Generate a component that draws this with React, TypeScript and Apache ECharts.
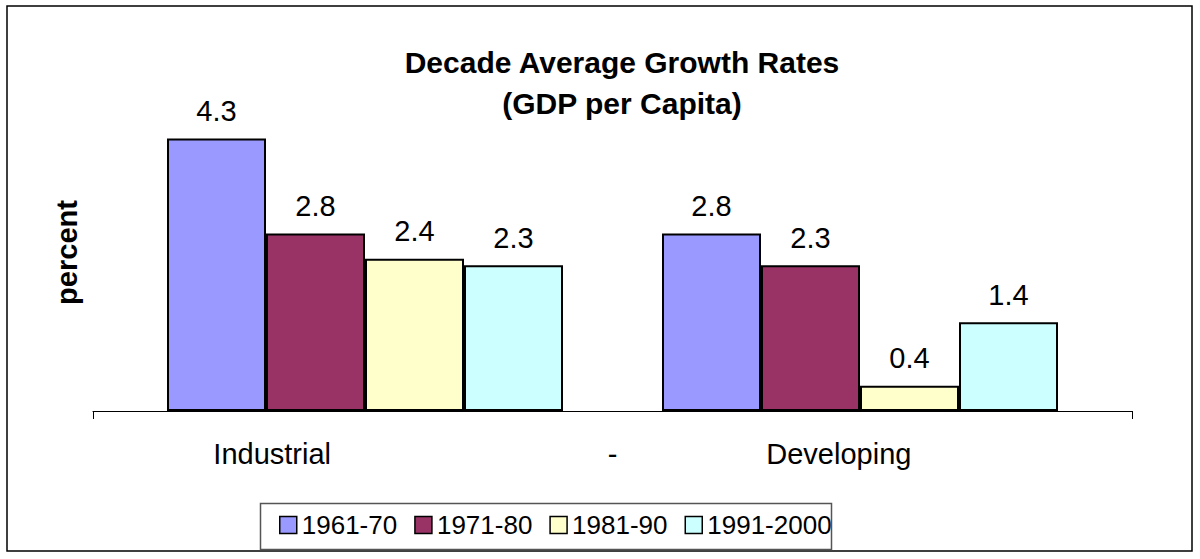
import React, { useEffect, useRef } from "react";
import * as echarts from "echarts";

const groups = ["Industrial", "Developing"];
const axisLabels = ["Industrial", "-", "Developing"];
const seriesNames = ["1961-70", "1971-80", "1981-90", "1991-2000"];
const v1961 = [4.3, 2.8];
const v1971 = [2.8, 2.3];
const v1981 = [2.4, 0.4];
const v1991 = [2.3, 1.4];
const seriesValues = [v1961, v1971, v1981, v1991];
const colors = ["#9999FF", "#993366", "#FFFFCC", "#CCFFFF"];
const titleText = "Decade Average Growth Rates\n(GDP per Capita)";
const yName = "percent";

const FONT = "'Liberation Sans', Arial, sans-serif";

export default function App() {
  const ref = useRef<HTMLDivElement>(null);
  useEffect(() => {
    if (!ref.current) return;
    const chart = echarts.init(ref.current, null, { renderer: "svg" });
    const option: any = {
      animation: false,
      backgroundColor: "#fff",
      textStyle: { fontFamily: FONT },
      title: {
        text: titleText,
        left: 617,
        top: 37,
        textAlign: "center",
        textStyle: { fontFamily: FONT, fontSize: 30, fontWeight: "bold", color: "#000", lineHeight: 41 },
      },
      legend: {
        data: seriesNames,
        left: 279,
        top: 512,
        icon: "rect",
        itemWidth: 17,
        itemHeight: 17,
        itemGap: 17,
        padding: 0,
        textStyle: { fontFamily: FONT, fontSize: 26, color: "#000" },
        itemStyle: { borderColor: "#000", borderWidth: 1.5 },
      },
      grid: [
        { left: 117.5, width: 990, top: 94, height: 317, containLabel: false },
        { left: 93, width: 1039, top: 94, height: 317, containLabel: false },
      ],
      xAxis: [
        {
          type: "category",
          gridIndex: 0,
          data: groups,
          axisLine: { show: false },
          axisTick: { show: false },
          axisLabel: { show: false },
          splitLine: { show: false },
        },
        {
          type: "category",
          gridIndex: 1,
          data: axisLabels,
          axisLine: { show: true, lineStyle: { color: "#000", width: 1 } },
          axisTick: { show: true, length: 8, lineStyle: { color: "#000" }, interval: (i: number) => i === 0 },
          axisLabel: {
            show: true,
            interval: 0,
            margin: 28,
            color: "#000",
            fontFamily: FONT,
            fontSize: 29,
            formatter: (v: string) => (v === "Industrial" ? `{a|${v}}` : v === "Developing" ? `{c|${v}}` : `{b|${v}}`),
            rich: {
              a: { fontFamily: FONT, fontSize: 29, color: "#000", padding: [0, 0, 0, 12] },
              b: { fontFamily: FONT, fontSize: 29, color: "#000" },
              c: { fontFamily: FONT, fontSize: 29, color: "#000", padding: [0, 240, 0, 0] },
            },
          },
          splitLine: { show: false },
        },
      ],
      yAxis: [
        {
          type: "value",
          gridIndex: 0,
          min: 0,
          max: 5,
          axisLine: { show: false },
          axisTick: { show: false },
          axisLabel: { show: false },
          splitLine: { show: false },
        },
        {
          type: "value",
          gridIndex: 1,
          min: 0,
          max: 5,
          name: yName,
          nameLocation: "middle",
          nameRotate: 90,
          nameGap: 12,
          nameTextStyle: { fontFamily: FONT, fontSize: 29, fontWeight: "bold", color: "#000" },
          axisLine: { show: false },
          axisTick: { show: false },
          axisLabel: { show: false },
          splitLine: { show: false },
        },
      ],
      series: seriesNames.map((name, i) => ({
        name,
        type: "bar",
        xAxisIndex: 0,
        yAxisIndex: 0,
        data: seriesValues[i],
        barWidth: 99,
        barGap: "0%",
        itemStyle: { color: colors[i], borderColor: "#000", borderWidth: 2 },
        label: {
          show: true,
          position: "top",
          distance: 13,
          fontFamily: FONT,
          fontSize: 29,
          color: "#000",
          formatter: (p: any) => String(p.value),
        },
      })),
      graphic: [
        {
          type: "rect",
          shape: { x: 7, y: 6, width: 1185, height: 545 },
          style: { fill: "none", stroke: "#000", lineWidth: 1.5 },
          z: 100,
        },
        {
          type: "rect",
          shape: { x: 260.5, y: 503.5, width: 571, height: 46 },
          style: { fill: "none", stroke: "#555", lineWidth: 1.5 },
          z: 100,
        },
      ],
    };
    chart.setOption(option);
    return () => chart.dispose();
  }, []);
  return (
    <div
      ref={ref}
      style={{ position: "absolute", left: 0, top: 0, width: 1200, height: 559 }}
    />
  );
}
